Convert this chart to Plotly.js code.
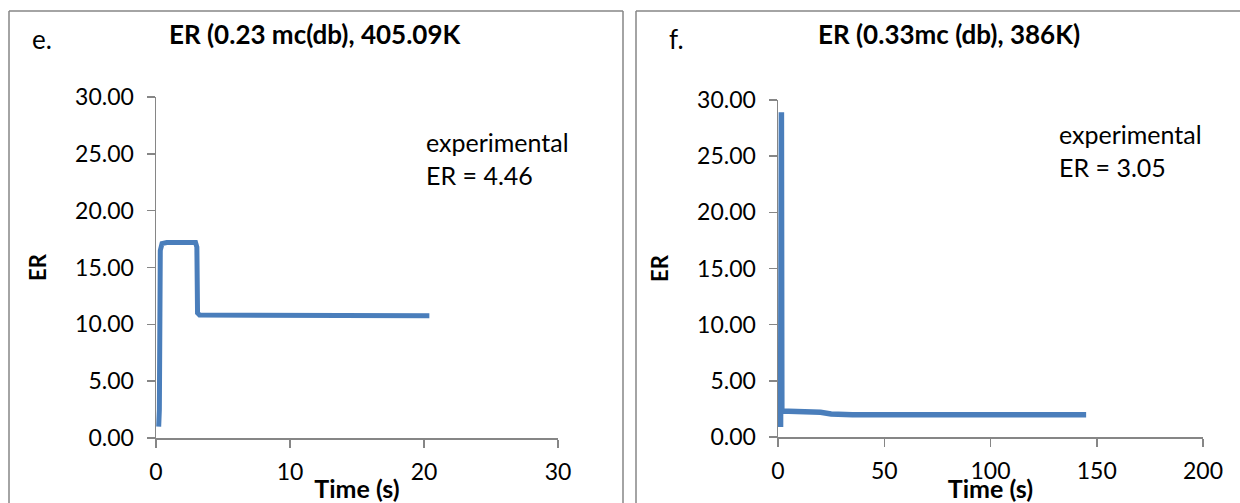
<!DOCTYPE html>
<html>
<head>
<meta charset="utf-8">
<script src="https://cdn.plot.ly/plotly-3.0.1.min.js"></script>
<style>html,body{margin:0;padding:0;background:#fff;}#chart{width:1240px;height:503px;}</style>
</head>
<body>
<div id="chart"></div>
<script>
// Panel e: ER (0.23 mc(db), 405.09K)
const timeE = [0.2, 0.25, 0.32, 0.45, 0.8, 2.0, 2.95, 3.05, 3.1, 3.25, 6, 10, 15, 20.4];
const erE   = [1.0, 2.5, 16.5, 17.1, 17.2, 17.2, 17.2, 16.8, 11.0, 10.82, 10.8, 10.78, 10.76, 10.75];
// Panel f: ER (0.33mc (db), 386K)
const timeF = [1.2, 1.3, 1.6, 1.8, 5, 15, 20, 25, 35, 60, 100, 145];
const erF   = [0.9, 28.9, 28.9, 2.3, 2.3, 2.3, 2.2, 2.05, 1.98, 1.97, 1.97, 1.97];

const xTicksE = [0, 10, 20, 30];
const xTicksF = [0, 50, 100, 150, 200];
const yTicks = [0, 5, 10, 15, 20, 25, 30];
const yTickText = yTicks.map(v => v.toFixed(2));

const titleE = 'ER (0.23 mc(db), 405.09K';
const titleF = 'ER (0.33mc (db), 386K)';
const noteE = 'experimental<br>ER = 4.46';
const noteF = 'experimental<br>ER = 3.05';

const W = 1240, H = 503;
const FONT = 'Lato, "Open Sans", sans-serif';
const BLUE = '#4a7ebb';
const GRAY = '#868686';

const traces = [
  {x: timeE, y: erE, type: 'scatter', mode: 'lines', line: {color: BLUE, width: 5}, xaxis: 'x', yaxis: 'y', showlegend: false},
  {x: timeF, y: erF, type: 'scatter', mode: 'lines', line: {color: BLUE, width: 5.5}, xaxis: 'x2', yaxis: 'y2', showlegend: false}
];

function xa(domain, range, ticks) {
  return {
    domain: domain, range: range, tickmode: 'array', tickvals: ticks,
    showgrid: false, zeroline: false, showline: true, linecolor: GRAY, linewidth: 1.5,
    ticks: 'outside', ticklen: 8, tickcolor: GRAY, tickwidth: 1.5,
    tickfont: {family: FONT, size: 23, color: '#000'}, ticklabelstandoff: 5,
    title: {text: 'Time (s)', font: {family: FONT, size: 25, color: '#000', weight: 'bold'}, standoff: 1},
    automargin: false, fixedrange: true
  };
}
function ya(domain, anchor) {
  return {
    domain: domain, range: [0, 30], tickmode: 'array', tickvals: yTicks, ticktext: yTickText,
    showgrid: false, zeroline: false, showline: true, linecolor: GRAY, linewidth: 1.5,
    ticks: 'outside', ticklen: 8, tickcolor: GRAY, tickwidth: 1.5,
    tickfont: {family: FONT, size: 23, color: '#000'}, ticklabelstandoff: 8,
    title: {text: 'ER', font: {family: FONT, size: 22, color: '#000', weight: 'bold'}, standoff: 22},
    anchor: anchor, automargin: false, fixedrange: true
  };
}

const layout = {
  width: W, height: H, margin: {l: 0, r: 0, t: 0, b: 0},
  paper_bgcolor: '#fff', plot_bgcolor: 'rgba(0,0,0,0)',
  xaxis: Object.assign(xa([156/W, 558/W], [0, 30], xTicksE), {anchor: 'y'}),
  yaxis: ya([(H-438)/H, (H-97)/H], 'x'),
  xaxis2: Object.assign(xa([778/W, 1203/W], [0, 200], xTicksF), {anchor: 'y2'}),
  yaxis2: ya([(H-437)/H, (H-100)/H], 'x2'),
  shapes: [
    {type: 'line', xref: 'paper', yref: 'paper', x0: 9/W, x1: 9/W, y0: 0, y1: (H-11)/H, line: {color: GRAY, width: 1.5}},
    {type: 'line', xref: 'paper', yref: 'paper', x0: 9/W, x1: 623/W, y0: (H-11)/H, y1: (H-11)/H, line: {color: GRAY, width: 1.5}},
    {type: 'line', xref: 'paper', yref: 'paper', x0: 623/W, x1: 623/W, y0: 0, y1: (H-11)/H, line: {color: GRAY, width: 1.5}},
    {type: 'line', xref: 'paper', yref: 'paper', x0: 636/W, x1: 636/W, y0: 0, y1: (H-11)/H, line: {color: GRAY, width: 1.5}},
    {type: 'line', xref: 'paper', yref: 'paper', x0: 636/W, x1: 1, y0: (H-11)/H, y1: (H-11)/H, line: {color: GRAY, width: 1.5}}
  ],
  annotations: [
    {text: 'e.', xref: 'paper', yref: 'paper', x: 30/W, y: (H-39)/H, xanchor: 'left', yanchor: 'middle', showarrow: false, font: {family: FONT, size: 26, color: '#000'}},
    {text: 'f.', xref: 'paper', yref: 'paper', x: 667/W, y: (H-39)/H, xanchor: 'left', yanchor: 'middle', showarrow: false, font: {family: FONT, size: 26, color: '#000'}},
    {text: '<b>' + titleE + '</b>', xref: 'paper', yref: 'paper', x: 315/W, y: (H-34)/H, xanchor: 'center', yanchor: 'middle', showarrow: false, font: {family: FONT, size: 26, color: '#000'}},
    {text: '<b>' + titleF + '</b>', xref: 'paper', yref: 'paper', x: 949/W, y: (H-34)/H, xanchor: 'center', yanchor: 'middle', showarrow: false, font: {family: FONT, size: 26, color: '#000'}},
    {text: noteE, xref: 'paper', yref: 'paper', x: 424/W, y: (H-158)/H, xanchor: 'left', yanchor: 'middle', align: 'left', showarrow: false, font: {family: FONT, size: 25, color: '#000'}},
    {text: noteF, xref: 'paper', yref: 'paper', x: 1057/W, y: (H-150)/H, xanchor: 'left', yanchor: 'middle', align: 'left', showarrow: false, font: {family: FONT, size: 25, color: '#000'}}
  ]
};

Plotly.newPlot('chart', traces, layout, {staticPlot: true, displayModeBar: false});
</script>
</body>
</html>
